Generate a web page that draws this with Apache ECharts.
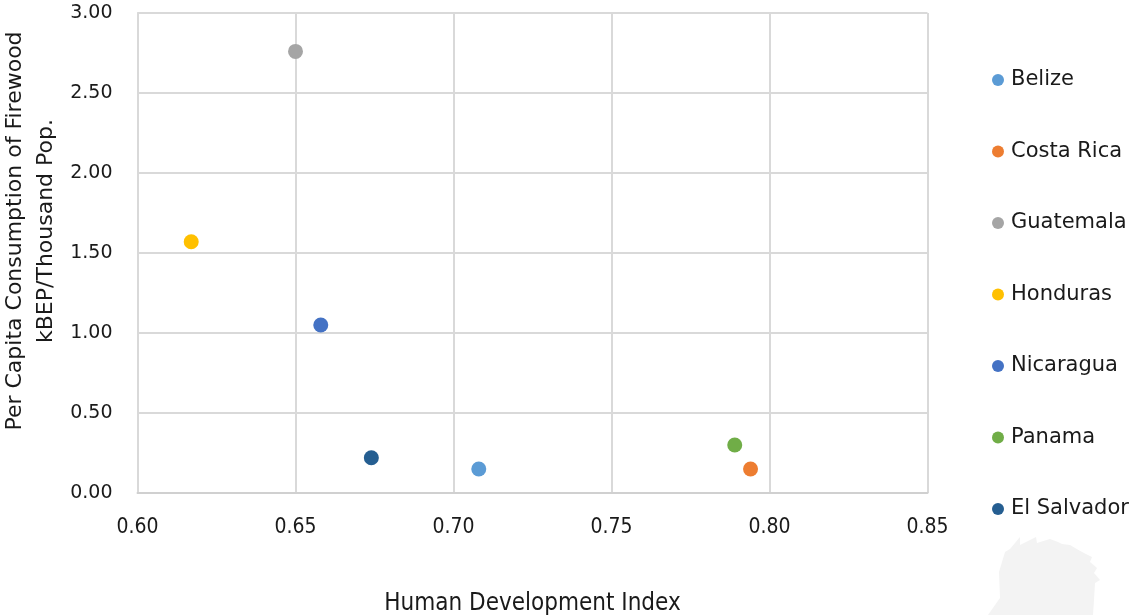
<!DOCTYPE html>
<html>
<head>
<meta charset="utf-8">
<script src="https://cdn.jsdelivr.net/npm/echarts@6/dist/echarts.min.js"></script>
<style>
  html, body { margin: 0; padding: 0; background: #fff; }
  #chart { width: 1130px; height: 615px; }
</style>
</head>
<body>
<div id="chart"></div>
<script>
// Firewood consumption per capita vs. Human Development Index, Central America
const countries = ['Belize', 'Costa Rica', 'Guatemala', 'Honduras', 'Nicaragua', 'Panama', 'El Salvador'];
const hdi       = [0.708, 0.794, 0.650, 0.617, 0.658, 0.789, 0.674];
const firewood  = [0.15, 0.15, 2.76, 1.57, 1.05, 0.30, 0.22];
const xTicks = [0.60, 0.65, 0.70, 0.75, 0.80, 0.85];
const yTicks = [0.00, 0.50, 1.00, 1.50, 2.00, 2.50, 3.00];
const xTitle = 'Human Development Index';
const yTitle = 'Per Capita Consumption of Firewood\nkBEP/Thousand Pop.';

const palette = ['#5b9bd5', '#ed7d31', '#a5a5a5', '#ffc000', '#4472c4', '#70ad47', '#255e91'];

const sansWide = '"DejaVu Sans", "Open Sans", sans-serif';
const sansNarrow = '"DejaVu Sans Condensed", "Liberation Sans Narrow", "Roboto", sans-serif';

const chart = echarts.init(document.getElementById('chart'), null, { renderer: 'canvas' });

const series = countries.map((name, i) => ({
  name: name,
  type: 'scatter',
  symbol: 'circle',
  symbolSize: 15,
  itemStyle: { color: palette[i], opacity: 1 },
  emphasis: { disabled: true },
  data: [[hdi[i], firewood[i]]]
}));

chart.setOption({
  animation: false,
  backgroundColor: '#ffffff',
  color: palette,
  grid: {
    left: 137.5, right: 202.5, top: 13, bottom: 122,
    containLabel: false, outerBoundsMode: 'none'
  },
  xAxis: {
    type: 'value',
    min: xTicks[0],
    max: xTicks[xTicks.length - 1],
    interval: 0.05,
    name: xTitle,
    nameLocation: 'middle',
    nameGap: 99,
    nameTextStyle: { fontFamily: sansNarrow, fontSize: 24, color: '#1a1a1a' },
    axisLine: { show: true, lineStyle: { color: '#d0d0d0', width: 2 } },
    axisTick: { show: false },
    splitLine: { show: true, lineStyle: { color: '#d9d9d9', width: 2 } },
    axisLabel: {
      fontFamily: sansNarrow, fontSize: 21, color: '#1a1a1a', margin: 24,
      formatter: v => v.toFixed(2)
    }
  },
  yAxis: {
    type: 'value',
    min: yTicks[0],
    max: yTicks[yTicks.length - 1],
    interval: 0.5,
    axisLine: { show: true, lineStyle: { color: '#d9d9d9', width: 2 } },
    axisTick: { show: false },
    splitLine: { show: true, lineStyle: { color: '#d9d9d9', width: 2 } },
    axisLabel: {
      fontFamily: sansWide, fontSize: 19, color: '#1a1a1a', margin: 25,
      formatter: v => v.toFixed(2)
    }
  },
  legend: {
    orient: 'vertical',
    left: 987,
    top: 64,
    icon: 'circle',
    itemWidth: 12,
    itemHeight: 12,
    itemGap: 49.5,
    selectedMode: false,
    textStyle: { fontFamily: sansWide, fontSize: 21, color: '#1a1a1a', lineHeight: 22, padding: [0, 0, 0, 2] },
    data: countries
  },
  graphic: [
    {
      // vertical axis title, two lines, rotated
      type: 'text',
      x: 31,
      y: 231,
      rotation: Math.PI / 2,
      silent: true,
      style: {
        text: yTitle,
        fontFamily: sansWide,
        fontSize: 22,
        lineHeight: 31,
        fill: '#1a1a1a',
        align: 'center',
        verticalAlign: 'middle'
      }
    },
    {
      type: 'polygon',
      z: -1,
      silent: true,
      shape: {
        points: [
          [988, 615], [1000, 598], [999, 572], [1005, 552], [1010, 549], [1020, 537],
          [1020, 545], [1036, 537], [1037, 543], [1050, 539], [1058, 542], [1062, 544],
          [1070, 545], [1075, 548], [1082, 552], [1092, 557], [1090, 562], [1097, 568],
          [1094, 573], [1100, 580], [1095, 583], [1094, 600], [1093, 615]
        ]
      },
      style: { fill: '#f3f3f3' }
    }
  ],
  series: series
});
</script>
</body>
</html>
